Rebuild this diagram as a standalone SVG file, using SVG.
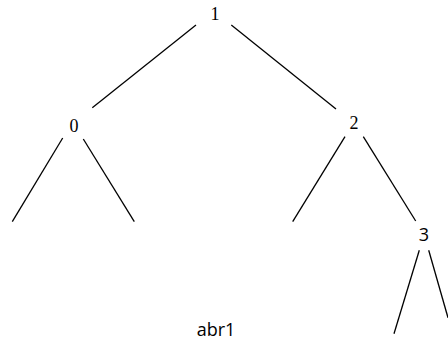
<svg xmlns="http://www.w3.org/2000/svg" width="448" height="342" viewBox="0 0 448 342">
<style>
.s{font-family:"Liberation Serif","Times New Roman",serif;font-size:18px;fill:#000;text-anchor:middle}
.n{font-family:"Open Sans","Noto Sans",sans-serif;font-size:18px;fill:#000;text-anchor:middle}
#edges line{stroke:#000;stroke-width:1.3;fill:none}
</style>
<rect width="448" height="342" fill="#fff"/>
<g id="edges">
<line x1="196" y1="25" x2="92.3" y2="107.7"/>
<line x1="231.3" y1="25" x2="336" y2="109"/>
<line x1="62.7" y1="138" x2="12.3" y2="221.7"/>
<line x1="83.3" y1="139" x2="134.3" y2="221.7"/>
<line x1="345" y1="136.7" x2="292.7" y2="221.7"/>
<line x1="363.3" y1="136.7" x2="415.7" y2="221"/>
<line x1="419.3" y1="250.3" x2="394" y2="333.7"/>
<line x1="428.7" y1="250.3" x2="448" y2="317.7"/>
</g>
<g id="n1"><text class="s" x="215" y="20">1</text></g>
<g id="n0"><text class="s" x="74" y="132">0</text></g>
<g id="n2"><text class="s" x="354" y="129">2</text></g>
<g id="n3"><text class="n" x="424" y="241">3</text></g>
<g id="caption"><text class="n" x="216" y="336">abr1</text></g>
</svg>
